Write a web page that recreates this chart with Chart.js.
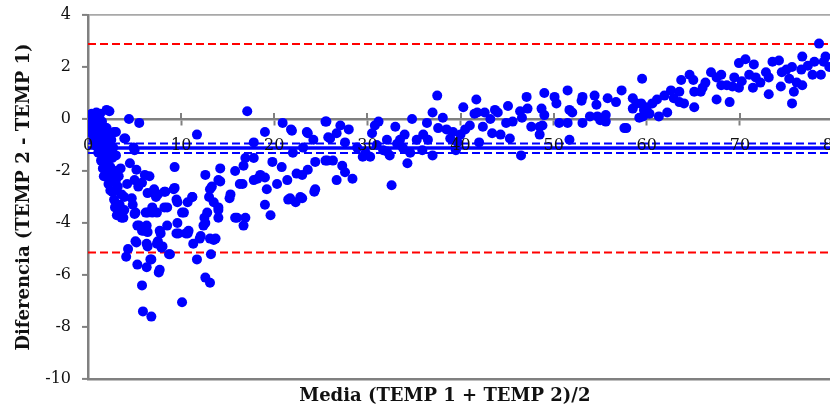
<!DOCTYPE html>
<html>
<head>
<meta charset="utf-8">
<script src="https://cdn.jsdelivr.net/npm/chart.js@4/dist/chart.umd.min.js"></script>
<style>
  html, body { margin: 0; padding: 0; background: #ffffff; overflow: hidden; }
  #wrap { width: 833px; height: 408px; position: relative; }
</style>
</head>
<body>
<div id="wrap"><canvas id="c"></canvas></div>
<script>
// ---- Data ----
const xTickValues = [0, 10, 20, 30, 40, 50, 60, 70, 80];
const yTickValues = [-10, -8, -6, -4, -2, 0, 2, 4];
const xAxisTitle = 'Media (TEMP 1 + TEMP 2)/2';
const yAxisTitle = 'Diferencia (TEMP 2 - TEMP 1)';

// Bland-Altman reference lines
const meanDifference = -1.12;
const meanCIUpper = -0.94;
const meanCILower = -1.31;
const upperLimit = 2.88;
const lowerLimit = -5.13;

// Points: [media, diferencia]
const puntos = [
[0.2,0.15],[0.4,0.2],[0.6,0.1],[0.9,0.25],[1.3,0.2],[2.3,0.3],[0.3,-0.15],[0.6,-0.2],[1.0,-0.05],[1.5,-0.1],[0.4,-0.45],[0.8,-0.5],[1.2,-0.4],[1.7,-0.3],[0.6,-0.8],[1.0,-0.75],[1.4,-0.7],[1.9,-0.6],[0.9,-1.05],[1.3,-1.0],[1.7,-0.95],[2.1,-0.9],[1.1,-1.3],[1.5,-1.35],[1.9,-1.25],[2.3,-1.2],[1.4,-1.6],[1.8,-1.65],[2.2,-1.55],[2.6,-1.5],[1.6,-1.9],[2.0,-1.95],[2.4,-1.85],[1.7,-2.2],[2.1,-2.25],[2.5,-2.15],[2.9,-2.0],[2.2,-2.5],[2.6,-2.4],[3.0,-2.35],[3.3,-2.2],[2.4,-2.75],[3.2,-2.6],[3.6,-2.9],[3.4,-3.3],[2.9,-3.4],[3.1,-3.7],[3.7,-3.5],[0.2,-0.3],[0.5,-0.05],[2.0,-0.35],[2.5,-0.8],[2.7,-1.1],[3.0,-1.4],[3.5,-1.9],[0.3,0.05],[0.7,-0.35],[1.1,0.1],[0.5,-0.6],[0.8,-0.15],
[2.0,0.35],[4.4,0.0],[5.5,-0.15],[3.0,-0.5],[4.0,-0.75],[4.9,-1.1],[3.9,-0.75],[5.0,-1.2],[2.8,-0.5],
[9.3,-1.85],[4.5,-1.7],[5.2,-1.95],[6.1,-2.15],[6.6,-2.2],[5.0,-2.35],[5.8,-2.45],[7.1,-2.7],[8.2,-2.8],[9.3,-2.65],[2.6,-2.8],[2.8,-3.1],[3.9,-3.0],[4.7,-3.05],[7.3,-3.0],[9.5,-3.1],[8.5,-3.4],[6.9,-3.4],
[3.5,-3.6],[3.8,-3.8],[4.8,-3.3],[5.1,-3.6],[3.0,-2.75],[4.2,-2.5],[5.4,-2.6],[6.4,-2.85],[7.1,-2.85],[6.0,-4.3],[5.3,-4.1],[6.4,-4.35],[5.1,-4.7],[6.4,-4.9],[7.5,-4.7],[8.0,-4.9],[7.8,-4.4],[6.9,-3.6],[7.4,-3.6],[6.2,-3.6],
[3.9,-3.5],[5.0,-3.65],[3.6,-3.8],[3.2,-3.4],[6.4,-3.6],[8.2,-3.4],[10.1,-3.6],[5.5,-4.1],[6.3,-4.1],[5.8,-4.3],[7.7,-4.3],[8.5,-4.1],[9.5,-4.4],[5.2,-4.75],[6.3,-4.8],[7.4,-4.8],[7.9,-4.95],[4.3,-5.0],[4.1,-5.3],[6.8,-5.4],[8.8,-5.2],[5.3,-5.6],[6.3,-5.7],[7.7,-5.8],[5.8,-6.4],[5.9,-7.4],[6.8,-7.6],[10.1,-7.05],
[11.7,-5.4],[11.3,-4.8],[12.6,-6.1],[13.1,-6.3],[13.2,-5.2],[12.0,-4.6],[13.1,-4.6],[13.7,-4.6],[12.6,-4.0],[12.5,-3.8],[12.8,-3.6],[14.0,-3.8],[14.0,-3.5],[13.5,-3.2],[13.0,-3.0],[13.1,-2.7],[14.2,-2.4],[15.3,-2.9],[15.2,-3.05],[9.2,-2.7],[9.6,-3.2],[10.3,-3.6],[11.2,-3.0],[10.7,-3.2],[8.3,-2.8],[7.5,-2.9],[8.7,-5.2],[9.6,-4.0],[9.7,-4.4],[10.7,-4.4],[7.6,-5.9],[6.7,-5.4],[15.8,-3.8],[16.9,-3.8],[16.7,-4.1],[19.0,-3.3],[19.6,-3.7],[16.3,-2.5],
[17.1,0.3],[11.7,-0.6],[17.8,-0.9],[19.0,-0.5],[20.9,-0.15],[21.9,-0.45],[23.6,-0.55],[24.2,-0.8],[25.5,-0.1],[25.8,-0.7],[22.0,-1.3],[23.1,-1.1],[24.4,-1.65],[25.7,-1.6],[23.6,-1.95],[16.9,-1.5],[17.8,-1.5],[16.7,-1.8],[15.8,-2.0],[19.8,-1.65],[20.8,-1.85],[22.4,-2.1],[23.0,-2.15],[14.2,-1.9],[12.6,-2.15],[14.0,-2.35],[13.3,-2.6],[17.8,-2.35],[18.5,-2.15],[19.0,-2.25],[19.2,-2.7],[18.2,-2.3],[16.6,-2.5],[20.3,-2.5],[21.4,-2.35],[21.5,-3.1],[22.3,-3.2],[23.0,-3.05],[24.3,-2.8],[16.0,-3.8],[12.4,-4.1],[10.5,-4.4],[12.1,-4.5],[13.5,-4.65],[11.2,-3.0],[14.0,-3.4],[10.8,-4.3],
[21.8,-0.4],[23.5,-0.5],[25.6,-0.1],[27.1,-0.25],[28.0,-0.4],[26.7,-0.55],[26.0,-0.75],[27.6,-0.9],[25.5,-1.6],[26.3,-1.6],[27.3,-1.8],[27.6,-2.05],[26.7,-2.35],[28.4,-2.3],[29.5,-1.45],[30.3,-1.45],[30.5,-0.55],[30.8,-0.25],[31.2,-0.1],[32.1,-0.8],[33.0,-0.3],[31.7,-1.2],[32.4,-1.4],[33.5,-0.8],[34.0,-0.6],[34.3,-1.7],[34.8,0.0],[35.3,-0.8],[35.9,-1.2],[36.5,-0.8],[36.4,-0.15],[37.0,0.25],[37.6,-0.35],[37.5,0.9],[38.1,0.05],[37.0,-1.4],[39.2,-0.5],[38.9,-0.75],[39.7,-0.9],[40.3,0.45],[41.0,-0.25],[41.5,0.2],[41.7,0.75],[32.6,-2.55],[33.2,-0.95],[33.8,-1.1],[32.1,-1.25],[24.4,-2.7],[22.8,-3.0],[21.7,-3.05],[28.9,-1.1],[29.8,-1.3],[31.0,-1.0],[34.6,-1.3],[36.0,-0.6],[38.5,-0.4],[40.0,-0.6],[39.5,-1.2],[40.5,-0.4],
[41.8,0.25],[42.6,0.25],[42.4,-0.3],[43.4,-0.55],[43.7,0.35],[44.9,-0.15],[45.1,0.5],[45.6,-0.1],[46.4,0.3],[46.6,0.05],[47.1,0.85],[47.2,0.4],[47.6,-0.3],[48.5,-0.3],[48.5,-0.6],[49.0,1.0],[48.7,0.4],[49.0,0.15],[50.1,0.85],[50.3,0.6],[50.6,-0.15],[51.5,1.1],[51.7,0.35],[51.5,-0.15],[52.0,0.25],[53.1,0.85],[53.0,0.7],[53.1,-0.15],[54.4,0.9],[54.6,0.55],[54.7,0.1],[55.6,0.15],[55.6,-0.1],[55.8,0.8],[56.7,0.65],[57.3,1.1],[57.6,-0.35],[58.5,0.8],[58.5,0.4],[58.9,0.6],[59.5,1.55],[59.2,0.05],[59.7,0.35],[45.3,-0.75],[46.5,-1.4],[44.3,-0.6],[43.2,0.0],[48.8,-0.25],[51.7,-0.8],[53.9,0.1],[55.0,-0.05],[57.8,-0.35],[60.3,0.2],[44.0,0.25],[42.0,-0.9],
[59.4,0.6],[59.6,0.1],[61.3,0.1],[60.6,0.6],[61.1,0.75],[61.9,0.9],[62.6,1.1],[62.2,0.25],[63.5,1.05],[63.7,1.5],[63.5,0.65],[64.0,0.6],[64.6,1.7],[65.0,1.5],[65.1,0.45],[65.1,1.05],[65.8,1.05],[66.3,1.4],[66.9,1.8],[67.5,1.6],[67.5,0.75],[68.0,1.7],[68.0,1.3],[68.6,1.3],[68.9,0.65],[69.4,1.6],[69.2,1.25],[69.9,1.2],[69.9,2.15],[70.6,2.3],[71.0,1.7],[71.5,2.1],[71.4,1.2],[71.7,1.6],[72.8,1.8],[73.1,1.6],[73.1,0.95],[73.5,2.2],[74.2,2.25],[74.5,1.8],[74.4,1.25],[75.0,1.9],[75.3,1.55],[75.6,2.0],[75.8,1.05],[75.6,0.6],[76.1,1.4],[76.7,1.3],[76.7,2.4],[76.6,1.9],[77.8,1.7],[78.0,2.2],[78.5,2.9],[78.7,1.7],[79.0,2.2],[79.2,2.4],[79.6,2.0],[60.0,0.45],[62.9,0.8],[66.0,1.2],[70.2,1.45],[72.2,1.4],[77.3,2.05]
];

// ---- Chart ----
const X_MIN = xTickValues[0], X_MAX = xTickValues[xTickValues.length - 1];
const Y_MIN = yTickValues[0], Y_MAX = yTickValues[yTickValues.length - 1];
const FONT = '"DejaVu Serif", "Liberation Serif", serif';
const AXIS_GRAY = '#808080';

function hLine(value, color, width, dash) {
  return {
    type: 'line',
    data: [{x: X_MIN, y: value}, {x: X_MAX, y: value}],
    borderColor: color,
    borderWidth: width,
    borderDash: dash,
    pointRadius: 0,
    fill: false,
    order: 2
  };
}

function noPad(scale) {
  scale.paddingLeft = 0; scale.paddingRight = 0;
  scale.paddingTop = 0; scale.paddingBottom = 0;
}

const crossTicks = {
  id: 'crossTicks',
  beforeDatasetsDraw(chart) {
    const xs = chart.scales.x, ys = chart.scales.y;
    const y0 = ys.getPixelForValue(0);
    const ctx = chart.ctx;
    ctx.save();
    ctx.strokeStyle = AXIS_GRAY;
    ctx.lineWidth = 2;
    xs.ticks.forEach(t => {
      if (t.value === X_MIN) return;
      const px = Math.round(xs.getPixelForValue(t.value));
      ctx.beginPath();
      ctx.moveTo(px, y0 - 6);
      ctx.lineTo(px, y0);
      ctx.stroke();
    });
    ctx.restore();
  }
};

new Chart(document.getElementById('c'), {
  type: 'scatter',
  data: {
    datasets: [
      {
        type: 'scatter',
        data: puntos.map(p => ({x: p[0], y: p[1]})),
        backgroundColor: '#0000ff',
        borderColor: '#0000ff',
        borderWidth: 0,
        pointRadius: 5,
        pointHoverRadius: 5,
        order: 1
      },
      hLine(upperLimit, '#ff0000', 2, [8, 4]),
      hLine(lowerLimit, '#ff0000', 2, [8, 4]),
      hLine(meanDifference, '#0000ff', 3.5, []),
      hLine(meanCIUpper, '#0000ff', 2, [8, 4]),
      hLine(meanCILower, '#0000ff', 2, [8, 4])
    ]
  },
  options: {
    responsive: true,
    maintainAspectRatio: false,
    animation: false,
    layout: { autoPadding: false, padding: { top: 15, right: 0, bottom: 0, left: 0 } },
    plugins: { legend: { display: false }, tooltip: { enabled: false } },
    scales: {
      x: {
        type: 'linear',
        position: { y: 0 },
        min: X_MIN, max: X_MAX,
        afterFit(scale) { scale.height = 0; noPad(scale); },
        afterBuildTicks(scale) { scale.ticks = xTickValues.map(v => ({value: v})); },
        border: { display: true, color: AXIS_GRAY, width: 2.5 },
        grid: { display: true, drawOnChartArea: false, drawTicks: true, tickLength: 5, tickColor: AXIS_GRAY, tickWidth: 2 },
        ticks: { z: 1, autoSkip: false, maxRotation: 0, padding: 12, color: '#111', font: { family: FONT, size: 16 } },
        title: { display: false }
      },
      x2: {
        type: 'linear',
        position: 'bottom',
        min: X_MIN, max: X_MAX,
        afterFit(scale) { scale.height = 29; noPad(scale); },
        border: { display: true, color: AXIS_GRAY, width: 2.5 },
        grid: { display: false },
        ticks: { display: false },
        title: { display: true, text: xAxisTitle + '\u00a0\u00a0\u00a0\u00a0\u00a0', color: '#111', padding: { top: 0, bottom: 1 }, font: { family: FONT, size: 18, weight: 'bold' } }
      },
      y: {
        type: 'linear',
        position: 'left',
        min: Y_MIN, max: Y_MAX,
        afterFit(scale) { scale.width = 88; noPad(scale); },
        afterBuildTicks(scale) { scale.ticks = yTickValues.map(v => ({value: v})); },
        border: { display: true, color: AXIS_GRAY, width: 2.5 },
        grid: {
          display: true,
          drawOnChartArea: true,
          drawTicks: true,
          tickLength: 6,
          tickColor: AXIS_GRAY,
          tickWidth: 2,
          lineWidth: 1.8,
          color: ctx => (ctx.tick && ctx.tick.value === Y_MAX) ? '#a8a8a8' : 'rgba(0,0,0,0)'
        },
        ticks: { padding: 11, color: '#111', font: { family: FONT, size: 16 } },
        title: { display: true, text: yAxisTitle, color: '#111', padding: { top: 14, bottom: 0 }, font: { family: FONT, size: 18, weight: 'bold' } }
      }
    }
  },
  plugins: [crossTicks]
});
</script>
</body>
</html>
